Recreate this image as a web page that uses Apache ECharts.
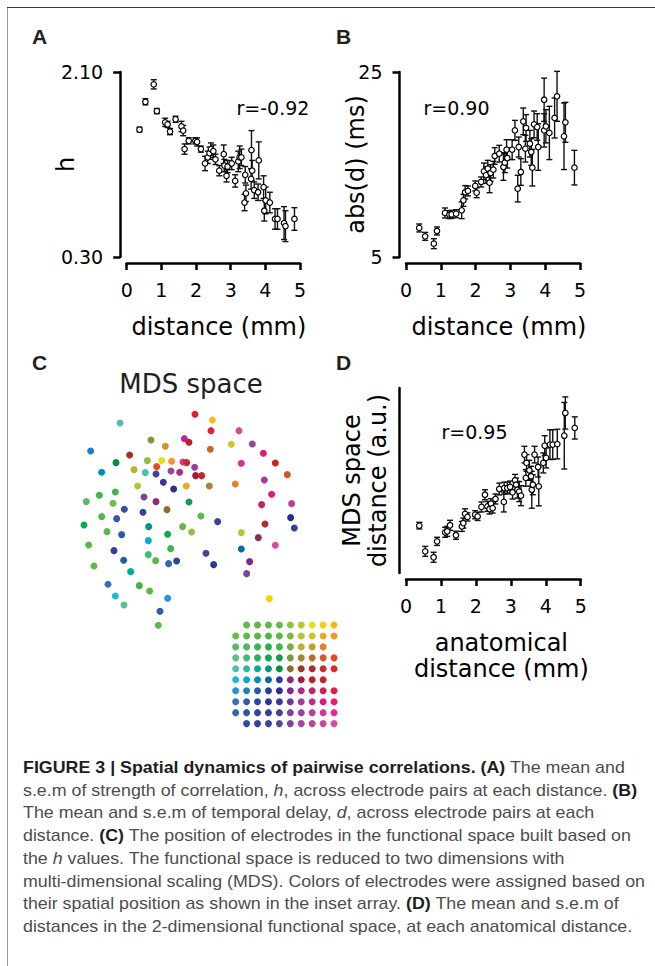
<!DOCTYPE html>
<html>
<head>
<meta charset="UTF-8">
<script src="https://cdn.jsdelivr.net/npm/echarts@6/dist/echarts.min.js"></script>
<title>Figure 3</title>
<style>
    body { margin: 0; background: #fff; }
    #page { position: relative; width: 655px; height: 966px; overflow: hidden; }
    #topLine { position: absolute; left: 7px; top: 7px; width: 648px; height: 0; border-top: 1.5px solid #3c3c3c; }
    #leftLine { position: absolute; left: 7px; top: 8px; width: 0; height: 958px; border-left: 1px solid #9a9a9a; }
    #chart { position: absolute; left: 0; top: 0; width: 655px; height: 750px; }
    #caption {
        position: absolute; left: 23px; top: 757px;
        font-family: "Liberation Sans", Arial, sans-serif; font-size: 17px; line-height: 22.7px;
        color: #4d4d4d; white-space: nowrap; transform-origin: 0 0;
    }
    #caption b { color: #1e1e1e; }
</style>
</head>
<body>
<div id="page">
    <div id="topLine"></div>
    <div id="leftLine"></div>
    <div id="chart"></div>
    <div id="caption">
        <div><b>FIGURE 3 | Spatial dynamics of pairwise correlations. (A)</b> The mean and</div>
        <div>s.e.m of strength of correlation, <i>h</i>, across electrode pairs at each distance. <b>(B)</b></div>
        <div>The mean and s.e.m of temporal delay, <i>d</i>, across electrode pairs at each</div>
        <div>distance. <b>(C)</b> The position of electrodes in the functional space built based on</div>
        <div>the <i>h</i> values. The functional space is reduced to two dimensions with</div>
        <div><span id="longLine">multi-dimensional scaling (MDS). Colors of electrodes were assigned based on</span></div>
        <div>their spatial position as shown in the inset array. <b>(D)</b> The mean and s.e.m of</div>
        <div>distances in the 2-dimensional functional space, at each anatomical distance.</div>
    </div>
</div>
<script>
    // panel A: strength of correlation h vs distance
    var aDist = [0.37,0.54,0.78,0.87,1.11,1.18,1.25,1.41,1.58,1.63,1.67,1.79,1.98,2.03,2.14,2.26,2.34,2.39,2.43,2.50,2.56,2.67,2.80,2.82,2.88,2.91,3.03,3.13,3.22,3.26,3.31,3.40,3.42,3.44,3.60,3.62,3.59,3.68,3.79,3.81,3.95,3.97,4.01,4.13,4.28,4.35,4.54,4.58,4.84];
    var aH = [1.54,1.81,1.98,1.72,1.61,1.59,1.52,1.64,1.57,1.53,1.35,1.43,1.43,1.42,1.35,1.21,1.27,1.31,1.35,1.33,1.25,1.14,1.30,1.19,1.09,1.18,1.21,1.04,1.23,1.27,1.27,0.83,1.10,0.92,1.34,1.14,1.06,0.95,0.93,1.24,0.98,0.75,0.85,0.83,0.67,0.67,0.63,0.60,0.67];
    var aErr = [0.023,0.03,0.045,0.025,0.04,0.03,0.03,0.03,0.05,0.05,0.05,0.03,0.03,0.04,0.03,0.07,0.06,0.06,0.06,0.06,0.05,0.05,0.09,0.06,0.06,0.06,0.06,0.06,0.10,0.11,0.08,0.08,0.08,0.08,0.19,0.10,0.10,0.08,0.08,0.18,0.11,0.10,0.13,0.10,0.10,0.10,0.16,0.15,0.11];
    var aTicks = [0.3, 2.1];

    // panel B: abs temporal delay (ms) vs distance
    var bDist = [0.38,0.55,0.80,0.89,1.12,1.25,1.31,1.44,1.60,1.65,1.70,1.78,1.99,2.03,2.16,2.24,2.30,2.35,2.40,2.43,2.51,2.55,2.68,2.80,2.84,2.89,2.91,3.05,3.13,3.21,3.24,3.30,3.37,3.43,3.45,3.56,3.60,3.63,3.68,3.77,3.80,3.97,3.97,4.02,4.12,4.27,4.34,4.54,4.58,4.84];
    var bDelay = [8.14,7.23,6.44,7.81,9.76,9.58,9.61,9.68,10.05,11.13,12.0,12.14,12.68,11.95,13.11,14.26,13.86,14.55,13.03,14.08,14.44,15.92,16.17,14.73,15.2,16.6,15.7,16.6,18.69,12.39,16.89,14.19,19.67,16.71,18.95,17.25,16.35,14.66,19.34,19.05,16.89,22.0,18.69,19.13,18.41,20.03,22.37,18.05,19.56,14.66];
    var bErr = [0.43,0.43,0.54,0.43,0.54,0.43,0.43,0.43,0.9,0.65,0.72,0.54,0.54,0.54,0.54,0.9,0.9,0.9,1.08,0.9,0.9,0.9,0.9,1.44,1.08,1.08,1.08,1.08,1.08,1.44,1.08,1.44,1.44,1.44,1.44,1.44,1.44,1.98,1.44,1.44,2.52,2.34,1.8,1.8,2.88,2.16,2.7,3.6,2.16,1.87];
    var bTicks = [5, 25];

    // panel D: MDS space distance (a.u.) vs anatomical distance
    var dDist = [0.38,0.55,0.79,0.89,1.12,1.18,1.26,1.43,1.60,1.64,1.69,1.76,1.98,2.05,2.16,2.26,2.33,2.39,2.43,2.48,2.56,2.67,2.80,2.81,2.90,2.98,3.05,3.12,3.15,3.19,3.24,3.29,3.39,3.43,3.45,3.53,3.58,3.60,3.63,3.68,3.78,3.80,3.93,3.97,4.01,4.12,4.20,4.33,4.53,4.56,4.83];
    var dMds = [0.256,0.117,0.085,0.171,0.22,0.225,0.258,0.204,0.252,0.27,0.32,0.303,0.315,0.306,0.357,0.423,0.36,0.346,0.375,0.351,0.4,0.454,0.384,0.459,0.459,0.465,0.436,0.501,0.477,0.45,0.44,0.418,0.64,0.514,0.595,0.555,0.523,0.45,0.477,0.64,0.573,0.468,0.595,0.688,0.622,0.694,0.694,0.697,0.742,0.865,0.784];
    var dErr = [0.018,0.027,0.027,0.022,0.027,0.027,0.027,0.022,0.027,0.027,0.027,0.022,0.022,0.022,0.027,0.027,0.027,0.027,0.027,0.027,0.027,0.032,0.054,0.032,0.032,0.032,0.036,0.032,0.036,0.045,0.054,0.054,0.045,0.045,0.045,0.054,0.054,0.1,0.054,0.045,0.054,0.105,0.054,0.054,0.054,0.08,0.08,0.08,0.18,0.087,0.06];

    // panel C: electrode positions in MDS space
    var mdsX = [0.25,0.77,-2.00,0.73,1.57,-1.07,-0.07,0.07,-0.64,0.71,1.34,1.97,-2.88,-1.71,2.30,-2.12,-1.18,-0.75,-0.45,-0.11,0.00,2.66,1.64,-0.90,0.24,-2.55,-1.58,-1.24,-0.92,-0.47,-0.21,0.27,0.45,3.02,-0.70,-0.39,-0.01,0.68,1.46,2.33,-1.47,-2.14,-2.62,2.55,-3.01,-2.21,-1.28,-0.92,0.07,2.25,3.15,-1.87,-0.59,-1.31,-2.55,-2.10,0.43,0.93,3.12,-3.08,2.35,-1.14,-0.12,3.23,-2.39,0.15,-1.95,-0.57,1.64,2.15,-1.15,-2.94,2.66,-0.48,-2.18,1.64,-1.15,0.58,-1.89,-0.93,-0.30,-0.54,1.89,0.81,-2.78,1.80,-1.68,-2.36,-1.42,-1.11,-2.14,-0.57,-1.88,2.48,-0.80,-0.85];
    var mdsY = [2.77,2.60,2.51,2.28,2.28,2.00,2.04,1.93,1.81,1.72,1.87,1.88,1.67,1.55,1.60,1.32,1.38,1.38,1.36,1.34,1.32,1.31,1.30,1.20,1.18,1.03,1.11,1.02,0.98,1.07,1.03,0.93,0.93,0.96,0.73,0.53,0.62,0.62,0.68,0.80,0.62,0.44,0.34,0.37,0.15,0.10,0.29,0.15,0.14,0.06,0.09,-0.08,-0.09,-0.17,-0.30,-0.36,-0.28,-0.45,-0.33,-0.55,-0.52,-0.60,-0.60,-0.64,-0.75,-0.76,-0.84,-0.83,-0.78,-0.93,-1.02,-1.15,-1.16,-1.26,-1.32,-1.27,-1.44,-1.40,-1.61,-1.62,-1.63,-1.71,-1.65,-1.74,-1.78,-2.01,-1.95,-2.33,-2.37,-2.53,-2.68,-2.75,-2.95,-2.76,-3.14,-3.56];
    var mdsColor = [
        '#e0202a','#fbb81a','#4cc0b0','#e01f3f','#c8509a','#7f9a3e','#c0248a','#b8202e','#c9972f','#c06a2a',
        '#d6c12c','#9c4498','#1f7fc4','#9e3426','#e0197c','#0b8a43','#8cc23f','#e4e01a','#f4962a','#d0399a',
        '#c92a2c','#c8242c','#e8288f','#e24c26','#a03d96','#0090b0','#b7b235','#4dbfb2','#4c3d95','#9c4498',
        '#ab2a85','#a01d3a','#c8242c','#d0572d','#3b378f','#2b2f8a','#e8a82a','#a9852f','#e08030','#a03d96',
        '#b4c535','#45b24b','#3cb54a','#e0197c','#5db86a','#6abf4b','#7a4499','#8a2a7a','#1a9a4f','#c0246a',
        '#b84299','#3651a0','#8a6d2a','#2d469c','#55b849','#3558a8','#5cb84a','#3a4398','#2b2f8a','#0da84f',
        '#b22a2a','#009a78','#74b14a','#2e4399','#5cb748','#8cc23f','#2d5aa8','#0da84f','#b3cb33','#8a2a5a',
        '#00aad0','#58b848','#e04a9a','#45b24b','#353f98','#006f9e','#43b97a','#4c3d95','#2259a8','#5cb84a',
        '#30449a','#3a62ad','#7a2b8f','#2b3990','#62b847','#7a4499','#00ac8e','#3a72ba','#3cb54a','#5cb748',
        '#1ebad5','#1e98d8','#5cbf90','#f4d010','#3558a8','#5db94a'];

    // inset electrode array, row by row (null = no electrode)
    var insetRows = [
        [null,'#62b847','#5cb748','#58b848','#66b94a','#8cc23f','#b3cb33','#e4e01a','#f4cc14','#fbb614'],
        ['#6abf4b','#5db94a','#55b849','#4bb649','#5cb84a','#7ab844','#b4c535','#d6c12c','#e8a82a','#f4962a'],
        ['#5db86a','#55b85a','#3cb54a','#27b04b','#45b24b','#74b14a','#b7b235','#c9972f','#d98530',null],
        ['#5cbf90','#43b97a','#2bb05a','#0da84f','#1a9a4f','#7f9a3e','#a9852f','#c06a2a','#d0572d','#e24c26'],
        ['#4dbfb2','#2db6a4','#00ac8e','#009a78','#0b8a43','#8a6d2a','#9e3426','#b22a2a','#c92a2c','#e0282a'],
        ['#1ebad5','#00aad0','#0090b0','#006f9e','#2a3f8f','#8a2a7a','#a01d3a','#b42430','#c8242c',null],
        ['#1e98d8','#1f7fc4','#2259a8','#243f98','#2b2f8a','#7a2b8f','#ab2a85','#c0246a','#d02054','#e21c4c'],
        ['#3a72ba','#3558a8','#2d469c','#263a92','#3b378f','#6d3894','#a03d96','#c22d8c','#e0197c','#ec1a6c'],
        ['#3a62ad','#3651a0','#30449a','#353f98','#4c3d95','#7a4499','#9c4498','#b84299','#d0399a','#e8288f'],
        [null,'#2f4a9f','#2e4399','#3a4398','#5a4499','#7a4499','#9a4a9c','#b34a9c','#c44c9e','#d64f9f']
    ];

    var FONT = 'DejaVu Sans';

    function zip3(x, y, e) {
        return x.map(function (v, i) { return [v, y[i], e[i]]; });
    }

    function errorBar(params, api) {
        var x = api.value(0), y = api.value(1), e = api.value(2);
        var hi = api.coord([x, y + e]);
        var lo = api.coord([x, y - e]);
        var st = { stroke: '#111', lineWidth: 1.4 };
        return {
            type: 'group',
            children: [
                { type: 'line', shape: { x1: hi[0], y1: hi[1], x2: lo[0], y2: lo[1] }, style: st },
                { type: 'line', shape: { x1: hi[0] - 3, y1: hi[1], x2: hi[0] + 3, y2: hi[1] }, style: st },
                { type: 'line', shape: { x1: lo[0] - 3, y1: lo[1], x2: lo[0] + 3, y2: lo[1] }, style: st }
            ]
        };
    }

    function distAxis(gi, name, gap, shift) {
        return {
            gridIndex: gi, type: 'value', min: 0, max: 5, interval: 1, offset: 6,
            axisLine: { show: true, onZero: false, lineStyle: { color: '#000', width: 2.5 } },
            axisTick: { show: true, length: 7, lineStyle: { color: '#000', width: 2.5 } },
            axisLabel: { margin: 17, fontSize: 19, fontFamily: FONT, color: '#000' },
            splitLine: { show: false },
            name: name, nameLocation: 'middle', nameGap: gap, nameMoveOverlap: false,
            nameTextStyle: { fontSize: 24, fontFamily: FONT, color: '#000', lineHeight: 26, padding: [0, 0, 0, shift] }
        };
    }

    function valAxis(gi, min, max, ticks, name, gap, fmt) {
        return {
            gridIndex: gi, type: 'value', min: min, max: max, offset: 6.5,
            axisLine: { show: true, onZero: false, lineStyle: { color: '#000', width: 2.5 } },
            axisTick: { show: !!ticks, length: 7, customValues: ticks || [], lineStyle: { color: '#000', width: 2.5 } },
            axisLabel: { show: !!ticks, margin: 17, fontSize: 19, fontFamily: FONT, color: '#000',
                customValues: ticks || [], formatter: fmt },
            splitLine: { show: false },
            name: name, nameLocation: 'middle', nameGap: gap, nameMoveOverlap: false,
            nameTextStyle: { fontSize: 24, fontFamily: FONT, color: '#000', lineHeight: 26 }
        };
    }

    function hiddenAxis(gi, min, max, inverse) {
        return { gridIndex: gi, type: 'value', min: min, max: max, inverse: !!inverse, show: false,
            splitLine: { show: false } };
    }

    var markerStyle = { color: '#fff', borderColor: '#000', borderWidth: 1.2, opacity: 1 };

    var mdsData = mdsX.map(function (x, i) {
        return { value: [x, mdsY[i]], itemStyle: { color: mdsColor[i] } };
    });
    var insetData = [];
    insetRows.forEach(function (row, r) {
        row.forEach(function (c, k) {
            if (c) insetData.push({ value: [k + 1, r + 1], itemStyle: { color: c } });
        });
    });

    function txt(text, x, y, size, family, weight, fill, align) {
        return {
            type: 'text', x: x, y: y, silent: true,
            style: { text: text, fill: fill || '#000', fontSize: size, fontFamily: family,
                fontWeight: weight || 'normal', align: align || 'left', verticalAlign: 'middle' }
        };
    }

    var LETTER = 'Liberation Sans';

    var chart = echarts.init(document.getElementById('chart'), null, { renderer: 'svg' });
    chart.setOption({
        animation: false,
        backgroundColor: 'transparent',
        grid: [
            { left: 126.7, top: 72, width: 173.3, height: 185, outerBoundsMode: 'none' },
            { left: 406, top: 72, width: 174, height: 185, outerBoundsMode: 'none' },
            { left: 20, top: 340, width: 333.3, height: 333.3, outerBoundsMode: 'none' },
            { left: 230.2, top: 619.5, width: 109.3, height: 109.6, outerBoundsMode: 'none' },
            { left: 406, top: 388, width: 174.7, height: 185, outerBoundsMode: 'none' }
        ],
        xAxis: [
            distAxis(0, 'distance (mm)', 51, 11),
            distAxis(1, 'distance (mm)', 51, 12),
            hiddenAxis(2, -5, 5),
            hiddenAxis(3, 0.5, 10.5),
            distAxis(4, 'anatomical\ndistance (mm)', 51, 16)
        ],
        yAxis: [
            valAxis(0, 0.3, 2.1, aTicks, 'h', 41, function (v) { return v.toFixed(2); }),
            valAxis(1, 5, 25, bTicks, 'abs(d) (ms)', 31, function (v) { return String(v); }),
            hiddenAxis(2, -5, 5),
            hiddenAxis(3, 0.5, 10.5, true),
            valAxis(4, 0, 1, null, 'MDS space\ndistance (a.u.)', 9)
        ],
        series: [
            { type: 'custom', xAxisIndex: 0, yAxisIndex: 0, renderItem: errorBar, data: zip3(aDist, aH, aErr),
              encode: { x: 0, y: 1 }, clip: false, silent: true },
            { type: 'scatter', xAxisIndex: 0, yAxisIndex: 0, symbolSize: 5.5, itemStyle: markerStyle,
              data: aDist.map(function (x, i) { return [x, aH[i]]; }), silent: true, z: 3 },
            { type: 'custom', xAxisIndex: 1, yAxisIndex: 1, renderItem: errorBar, data: zip3(bDist, bDelay, bErr),
              encode: { x: 0, y: 1 }, clip: false, silent: true },
            { type: 'scatter', xAxisIndex: 1, yAxisIndex: 1, symbolSize: 5.5, itemStyle: markerStyle,
              data: bDist.map(function (x, i) { return [x, bDelay[i]]; }), silent: true, z: 3 },
            { type: 'scatter', xAxisIndex: 2, yAxisIndex: 2, symbolSize: 7, data: mdsData, silent: true,
              itemStyle: { opacity: 1 } },
            { type: 'scatter', xAxisIndex: 3, yAxisIndex: 3, symbolSize: 7, data: insetData, silent: true,
              itemStyle: { opacity: 1 } },
            { type: 'custom', xAxisIndex: 4, yAxisIndex: 4, renderItem: errorBar, data: zip3(dDist, dMds, dErr),
              encode: { x: 0, y: 1 }, clip: false, silent: true },
            { type: 'scatter', xAxisIndex: 4, yAxisIndex: 4, symbolSize: 5.5, itemStyle: markerStyle,
              data: dDist.map(function (x, i) { return [x, dMds[i]]; }), silent: true, z: 3 }
        ],
        graphic: [
            txt('A', 32, 36, 21, LETTER, 'bold', '#231f20'),
            txt('B', 336, 36, 21, LETTER, 'bold', '#231f20'),
            txt('C', 32, 362, 21, LETTER, 'bold', '#231f20'),
            txt('D', 336, 362, 21, LETTER, 'bold', '#231f20'),
            txt('r=-0.92', 236.5, 108.4, 19, FONT),
            txt('r=0.90', 423.5, 108.4, 19, FONT),
            txt('r=0.95', 441.5, 432, 19, FONT),
            txt('MDS space', 191, 383.5, 26, FONT, 'normal', '#231f20', 'center')
        ]
    });

    // squeeze the caption so its longest line spans the same width as the figure's
    var cap = document.getElementById('caption');
    var w = document.getElementById('longLine').getBoundingClientRect().width;
    if (w > 0) cap.style.transform = 'scaleX(' + (622 / w) + ')';
</script>
</body>
</html>
